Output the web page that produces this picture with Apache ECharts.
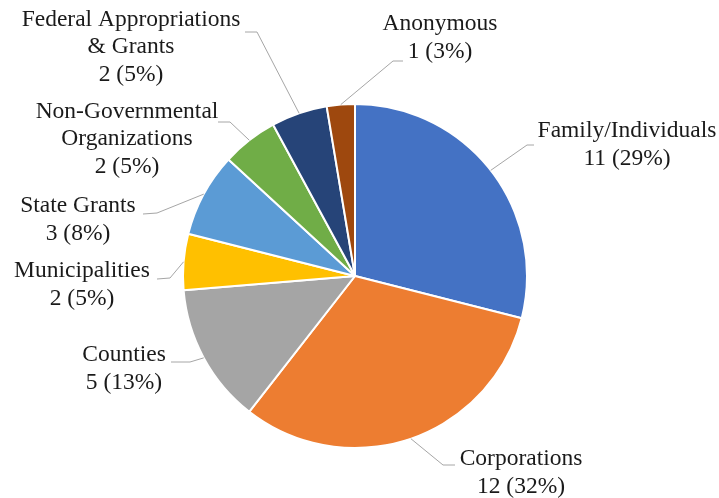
<!DOCTYPE html>
<html>
<head>
<meta charset="utf-8">
<script src="https://cdn.jsdelivr.net/npm/echarts@6/dist/echarts.min.js"></script>
<style>
  html, body { margin: 0; padding: 0; background: #ffffff; }
  #chart { width: 719px; height: 498px; }
</style>
</head>
<body>
<div id="chart"></div>
<script>
// Funding sources: number of contributors per source
const categories = [
  'Family/Individuals',
  'Corporations',
  'Counties',
  'Municipalities',
  'State Grants',
  'Non-Governmental\nOrganizations',
  'Federal Appropriations\n& Grants',
  'Anonymous'
];
const counts = [11, 12, 5, 2, 3, 2, 2, 1];
const sliceColors = ['#4472C4', '#ED7D31', '#A5A5A5', '#FFC000', '#5B9BD5', '#70AD47', '#264478', '#9E480E'];

// Label placement: text block centre, leader elbow and leader end (px)
const labelPlacement = [
  { cx: 627, cy: 145, elbow: [527, 145], end: [534, 145] },
  { cx: 521, cy: 473, elbow: [443, 465], end: [455, 465] },
  { cx: 124, cy: 369, elbow: [190, 362], end: [171, 362] },
  { cx: 82,  cy: 285, elbow: [170, 278], end: [157, 279] },
  { cx: 78,  cy: 220, elbow: [157, 213], end: [143, 214] },
  { cx: 127, cy: 139, elbow: [230, 122], end: [218, 122] },
  { cx: 131, cy: 47,  elbow: [257, 32],  end: [245, 32] },
  { cx: 440, cy: 38,  elbow: [393, 61],  end: [403, 61] }
];

const chart = echarts.init(document.getElementById('chart'), null, { renderer: 'canvas' });

chart.setOption({
  backgroundColor: '#ffffff',
  animation: false,
  series: [{
    type: 'pie',
    center: [355, 276],
    radius: [0, 172],
    startAngle: 90,
    clockwise: true,
    data: categories.map((name, i) => ({
      name: name,
      value: counts[i],
      itemStyle: { color: sliceColors[i] }
    })),
    itemStyle: { borderColor: '#ffffff', borderWidth: 2 },
    label: { show: false },
    labelLine: { show: false },
    emphasis: { disabled: true }
  }]
});

// Callouts: leader lines start on the rim at each slice's mid-angle,
// taken from the pie layout computed by ECharts.
const pieData = chart.getModel().getSeriesByIndex(0).getData();
const total = counts.reduce((a, b) => a + b, 0);
const callouts = [];
categories.forEach((name, i) => {
  const lay = pieData.getItemLayout(i);
  const mid = (lay.startAngle + lay.endAngle) / 2;
  const rim = [lay.cx + lay.r * Math.cos(mid), lay.cy + lay.r * Math.sin(mid)];
  const pl = labelPlacement[i];
  callouts.push({
    type: 'polyline',
    silent: true,
    shape: { points: [rim, pl.elbow, pl.end] },
    style: { stroke: '#a6a6a6', lineWidth: 1, fill: null },
    z: 10
  });
  callouts.push({
    type: 'text',
    silent: true,
    x: pl.cx,
    y: pl.cy,
    style: {
      text: name + '\n' + counts[i] + ' (' + Math.round(counts[i] / total * 100) + '%)',
      fontFamily: 'Liberation Serif',
      fontSize: 23.5,
      lineHeight: 27.5,
      fill: '#1a1a1a',
      align: 'center',
      verticalAlign: 'middle'
    },
    z: 10
  });
});

chart.setOption({ graphic: callouts });
</script>
</body>
</html>
